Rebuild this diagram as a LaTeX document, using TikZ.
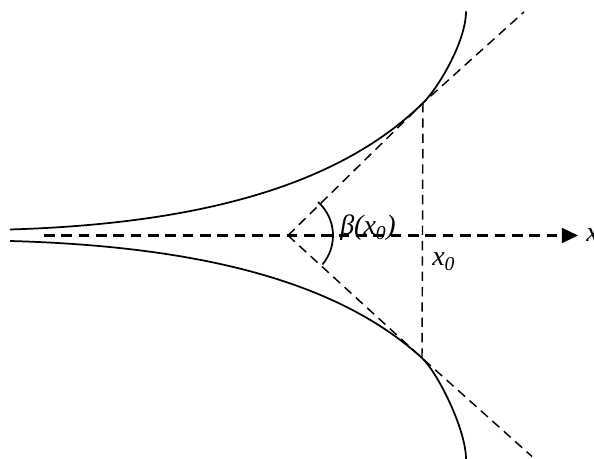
\documentclass[tikz,border=0pt]{standalone}
\usepackage{fontspec}
\setmainfont{Liberation Serif}
\usetikzlibrary{arrows.meta}
\tikzset{
  guide/.style={dashed, dash pattern=on 7pt off 4.5pt, line width=1.1pt},
  axisline/.style={dash pattern=on 8pt off 5pt, line width=1.7pt},
  branch/.style={line width=1.3pt}
}
\begin{document}
\begin{tikzpicture}[x=0.75pt, y=0.75pt, font=\fontsize{21}{24}\selectfont\itshape]
\useasboundingbox (-288,-223.5) rectangle (306,235.5);
\coordinate (apex) at (0,0);
\coordinate (tup) at (135,132.5);
\coordinate (tlo) at (134,-122.5);
\coordinate (endup) at (236,223.5);
\coordinate (endlo) at (244,-221);
% the two branches
\draw[branch] (-278,6) .. controls (-78,12) and (55,54.1) .. (tup)
  .. controls (150,147.2) and (178,194) .. (178,224);
\draw[branch] (-278,-5.5) .. controls (-78,-11) and (54,-49.7) .. (tlo)
  .. controls (149,-136.2) and (178,-193.5) .. (178,-223.5);
% axis
\coordinate (xstart) at (-244,0);
\coordinate (xend) at (290,0);
\draw[axisline, -{Triangle[length=12pt,width=11pt]}] (xstart) -- (xend);
\node[anchor=base west, inner sep=0pt] (xlab) at (298,-6) {x};
% tangents
\draw[guide] (apex) -- (tup) -- (endup);
\draw[guide] (apex) -- (tlo) -- (endlo);
\draw[guide] (tup) -- (tlo);
\draw[branch] (-40:45) arc (-40:48:45);
\node[anchor=base west, inner sep=0pt] (beta) at (52,0.5) {β(x\textsubscript{0})};
\node[anchor=base west, inner sep=0pt] (xnull) at (144,-30.5) {x\textsubscript{0}};
\end{tikzpicture}
\end{document}
